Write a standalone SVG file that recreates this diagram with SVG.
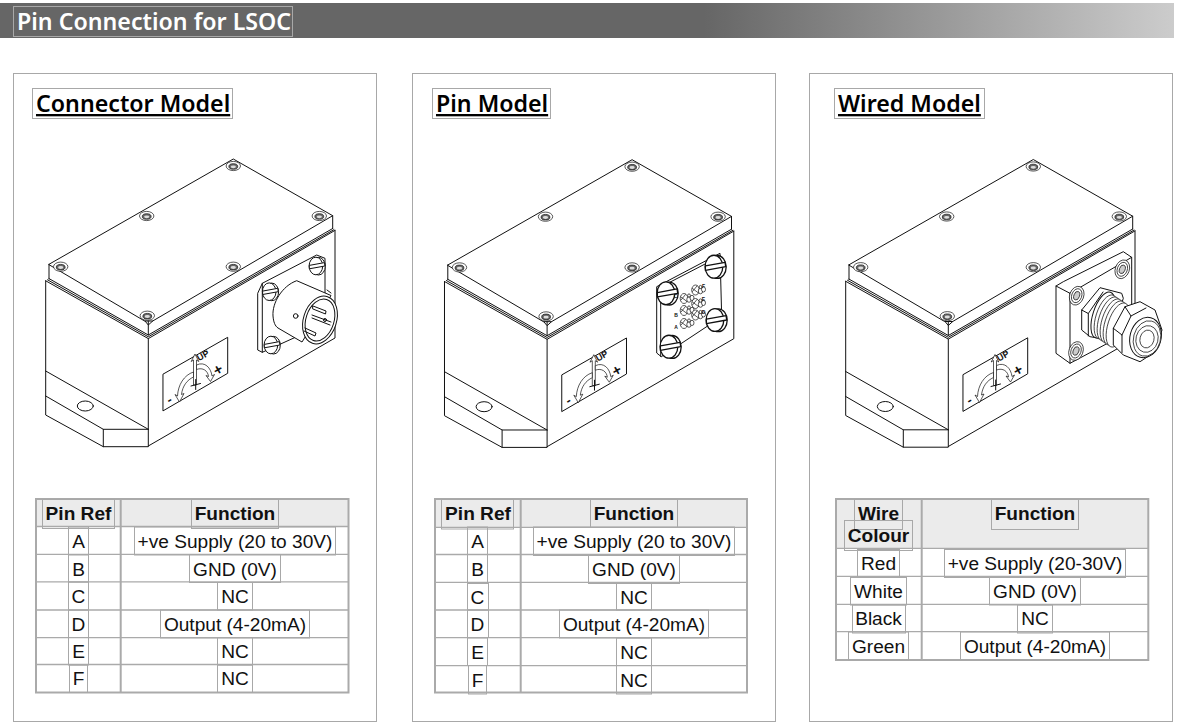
<svg xmlns="http://www.w3.org/2000/svg" xmlns:xlink="http://www.w3.org/1999/xlink" width="1185" height="723" viewBox="0 0 1185 723">
<style>
.bx{fill:none;stroke:#a8a8a8;stroke-width:1}
.ln{fill:none;stroke:#111;stroke-width:1;stroke-linejoin:round;stroke-linecap:round}
.wf{fill:#fff;stroke:#111;stroke-width:1;stroke-linejoin:round}
.th{stroke-width:.7}
.title{font-family:"Noto Sans","Open Sans",sans-serif;font-weight:600;font-size:23.2px;fill:#fff}
.head{font-family:"Noto Sans","Open Sans",sans-serif;font-weight:600;font-size:23.2px;fill:#000;text-decoration:underline}
.c{font-family:"Liberation Sans",Arial,sans-serif;font-size:19.1px;fill:#111;text-anchor:middle}
.h{font-weight:bold}
.tbl{fill:none;stroke:#aaa;stroke-width:2}
.row{fill:none;stroke:#aaa;stroke-width:1.3}
.mark{font-family:"Liberation Sans",Arial,sans-serif;font-weight:bold;fill:#111;text-anchor:middle}
</style>
<defs>
<linearGradient id="bar" x1="0" x2="1" y1="0" y2="0"><stop offset="0" stop-color="#666"/><stop offset=".6" stop-color="#666"/><stop offset="1" stop-color="#ccc"/></linearGradient>
<g id="cb"><ellipse class="wf th" rx="7.200" ry="4.600"/><ellipse cy=".5" rx="4.400" ry="2.800" fill="#666" stroke="#111" stroke-width=".7"/><ellipse cy=".8" rx="2.600" ry="1.400" fill="#ddd"/></g>
<g id="slot"><ellipse class="wf" cx="1.800" cy=".2" rx="6.800" ry="8.800"/><ellipse class="wf" cx="-.8" rx="6.800" ry="8.800"/><path class="wf" d="M-7.400,-.6L7.800,-3.400L8.200,0L-7.400,2.800Z"/></g>
<g id="pins"><ellipse class="wf th" rx="3.800" ry="5"/><path class="ln th" d="M-3,1.500L1.500,-4M-3,-1.500L3,3"/><ellipse class="wf th" cx="5" cy="1" rx="2.200" ry="2.800"/><ellipse class="wf th" cx="8" cy="-.6" rx="2" ry="2.600"/><ellipse class="wf th" cx="5" cy="-3" rx="1.400" ry="1.600"/></g>
<g id="bolt"><ellipse class="wf th" rx="7" ry="9.600" transform="rotate(20)"/><ellipse class="wf th" rx="5" ry="7.200" transform="rotate(20)"/><ellipse rx="2.800" ry="4.400" transform="rotate(20)" fill="#ccc" stroke="#111" stroke-width=".7"/></g>
<g id="unit">
<path class="ln" d="M49,264.300L233.300,159L332.700,215.700L152.700,321L145,321Z"/>
<path class="ln" d="M49,264.300V279M332.700,215.700V228.500M148.300,321V335M145,321L148.300,325L152.700,321"/>
<path class="ln" d="M49,278.600L148.300,335L332.700,228.500"/>
<path class="ln" d="M47.500,279.800L148.300,336.800L334,229.600"/>
<path class="ln" d="M45.700,280.800L148.300,338.600L335,230.400"/>
<path class="ln" d="M45.700,280.800V415L103.300,446.700H148.300V338.600M335,230.400V338L148.300,446"/>
<path class="ln" d="M45.700,371L148.300,429.300M45.700,396L103.300,429.300H148.300M103.300,429.300V446.700"/>
<ellipse class="ln" cx="85.300" cy="406" rx="8" ry="5"/>
<use href="#cb" x="233.300" y="166"/><use href="#cb" x="146.700" y="216"/><use href="#cb" x="319.300" y="216"/><use href="#cb" x="60.700" y="266.700"/><use href="#cb" x="233.300" y="266.700"/><use href="#cb" x="147.300" y="315.700"/>
<path class="ln" d="M163.300,374L227.700,337.300V373.300L163.300,410.700Z"/>
<path class="wf th" d="M193.500,385V360L191.200,361.500L195,354L198.800,361.500L196.500,360V385Z"/>
<path class="wf th" d="M193.500,372C184,375 178,385 177.500,396L175,394.500L179.500,402L184,393.500L181.500,394.500C182.500,386 187,380 193.500,377Z"/>
<path class="wf th" d="M196.500,365C205,361 211,368 212,376L214.500,374.500L210.500,381.500L206,375.500L208.500,376.500C208,371 203,367 196.500,369.500Z"/>
<path class="ln" d="M195.700,379.500V389.500M191,386L200.500,383.500"/>
<text class="mark" font-size="9" transform="translate(204.500,358) rotate(-30)">UP</text>
<text class="mark" font-size="15" transform="translate(220.500,374) rotate(-30)">+</text>
<text class="mark" font-size="13" transform="translate(171.500,403.500) rotate(-30)">-</text>
</g>
</defs>
<rect id="titlebar" x="0" y="3" width="1174" height="35" fill="url(#bar)"/>
<g id="title"><rect class="bx" x="13.500" y="6.500" width="279" height="30"/><text class="title" x="17" y="30">Pin Connection for LSOC</text></g>

<g id="panel-connector">
<rect class="bx" x="13.500" y="73.500" width="363" height="648"/>
<rect class="bx" x="32.500" y="88.500" width="200" height="30"/><text class="head" x="36" y="112">Connector Model</text>
<use href="#unit"/>
<g id="connector-plug">
<path class="wf" d="M257.700,293.300L262.300,283.300L316.700,255L325,258.300V315L296.700,336.700L262.300,352.300L257.700,350Z"/>
<path class="ln" d="M262.300,283.300V352.300"/>
<use href="#slot" x="270" y="291.700"/><use href="#slot" x="316.700" y="266"/><use href="#slot" x="271.700" y="345"/>
<path class="wf" d="M296.700,280.700C282,286 272,303 273,316C273.500,322 275,326 278,328L302,342L331,295.500Z"/>
<circle class="ln" cx="295.700" cy="316" r="2.300"/>
<path class="ln" d="M327,290L331,293"/>
<ellipse class="wf" cx="320" cy="320" rx="16.500" ry="24.500" transform="rotate(18 320 320)"/>
<ellipse class="wf" cx="320" cy="320" rx="14" ry="21.500" transform="rotate(18 320 320)"/>
<path class="ln" d="M313,306L326,311L325.500,314L313,309ZM312,315L331,322M312,318L330,325M305,328L316,333L315,336L304,331"/>
<circle class="ln" cx="325" cy="320" r="1.500"/>
</g>
</g>

<g id="panel-pin">
<rect class="bx" x="412.500" y="73.500" width="363" height="648"/>
<rect class="bx" x="432.500" y="88.500" width="118" height="30"/><text class="head" x="436" y="112">Pin Model</text>
<use href="#unit" transform="translate(398.800,.7)"/>
<g id="pin-plate">
<path class="wf" d="M656.700,286.700L720,253.300L721.700,316.700L661.300,356.700L656.700,353Z"/>
<path class="ln" d="M660.700,284.500V356.500M660.700,287L720.500,256"/>
<use href="#slot" transform="translate(667,293.300) scale(1.300)"/><use href="#slot" transform="translate(715,266.700) scale(1.300)"/><use href="#slot" transform="translate(670,346.700) scale(1.300)"/><use href="#slot" transform="translate(716,320) scale(1.300)"/>
<use href="#pins" x="684" y="298.500"/><use href="#pins" x="695.500" y="290"/><use href="#pins" x="684" y="310.500"/><use href="#pins" x="695.500" y="303.500"/><use href="#pins" x="684" y="323.500"/><use href="#pins" x="695.500" y="315"/>
<text class="mark" font-size="5" x="703.500" y="288">F</text><text class="mark" font-size="5" x="703.500" y="301">E</text><text class="mark" font-size="5" x="703.500" y="314">D</text><text class="mark" font-size="5" x="675.500" y="298">C</text><text class="mark" font-size="5" x="676" y="317">B</text><text class="mark" font-size="5" x="676" y="329">A</text>
</g>
</g>

<g id="panel-wired">
<rect class="bx" x="809.500" y="73.500" width="363" height="648"/>
<rect class="bx" x="834.500" y="88.500" width="150" height="30"/><text class="head" x="838" y="112">Wired Model</text>
<use href="#unit" transform="translate(800,.5)"/>
<g id="wire-gland">
<path class="wf" d="M1056,286L1063.300,281.700L1123.300,251.700L1131.700,257.300V307L1110,342L1070,363.300L1056,353.300Z"/>
<path class="ln" d="M1070,293.300V363.300M1070,293.300L1131.700,257.300M1056,286L1070,293.300"/>
<use href="#bolt" x="1076.700" y="295.700"/><use href="#bolt" x="1122.300" y="269.300"/><use href="#bolt" x="1076" y="351"/>
<path class="wf" d="M1081.700,310L1100,287.700L1121.700,293.300L1123.300,298.300L1110,340L1090,336.700L1081.700,330Z"/>
<path class="ln" d="M1081.700,310L1088.300,313.500V336M1088.300,313.500L1103,292"/>
<ellipse class="wf" cx="1103" cy="315" rx="10" ry="24" transform="rotate(18 1103 315)"/>
<ellipse class="wf th" cx="1106" cy="317" rx="10" ry="23" transform="rotate(18 1106 317)"/>
<ellipse class="wf th" cx="1109" cy="319" rx="10" ry="23" transform="rotate(18 1109 319)"/>
<ellipse class="wf th" cx="1112" cy="321" rx="10" ry="23" transform="rotate(18 1112 321)"/>
<ellipse class="wf th" cx="1115" cy="323" rx="10" ry="23" transform="rotate(18 1115 323)"/>
<ellipse class="wf th" cx="1118" cy="325" rx="10" ry="23" transform="rotate(18 1118 325)"/>
<path class="wf" d="M1113.300,328.300L1125,306.700L1140,301.700L1155,310L1162,330L1155,352L1140,361.700L1123.300,355L1113.300,345Z"/>
<path class="ln" d="M1113.300,328.300L1122,335V352.500M1122,335L1131,316L1125,306.700M1131,316L1146,308"/>
<ellipse class="wf" cx="1145.500" cy="337.500" rx="15.500" ry="20.500" transform="rotate(15 1145.500 337.500)"/>
<ellipse class="wf th" cx="1147" cy="338.500" rx="13.500" ry="18" transform="rotate(15 1147 338.500)"/>
<ellipse class="wf th" cx="1147" cy="339" rx="11" ry="13.500" transform="rotate(15 1147 339)"/>
<ellipse class="wf th" cx="1147" cy="339" rx="7" ry="9" transform="rotate(15 1147 339)"/>
</g>
</g>

<g id="table-connector">
<rect x="36" y="500" width="312.500" height="26.500" fill="#ebebeb"/>
<path class="row" d="M36,526.500H348.500M36,554.300H348.500M36,581.800H348.500M36,610H348.500M36,637.700H348.500M36,664.500H348.500"/>
<path class="tbl" d="M120.700,499V693"/>
<rect class="tbl" x="36" y="499" width="312.500" height="193.500"/>
<rect class="bx" x="42.500" y="499.500" width="72" height="29"/><text class="c h" x="78.500" y="520">Pin Ref</text>
<rect class="bx" x="191.500" y="499.500" width="87" height="29"/><text class="c h" x="235" y="520">Function</text>
<rect class="bx" x="68.500" y="527" width="20" height="28"/><text class="c" x="78.500" y="548.300">A</text>
<rect class="bx" x="134.500" y="527" width="201" height="28"/><text class="c" x="235" y="548.300">+ve Supply (20 to 30V)</text>
<rect class="bx" x="68.500" y="554.500" width="20" height="27.500"/><text class="c" x="78.500" y="575.500">B</text>
<rect class="bx" x="189.500" y="554.500" width="91" height="28"/><text class="c" x="235" y="575.500">GND (0V)</text>
<rect class="bx" x="68.500" y="582" width="20" height="28"/><text class="c" x="78.500" y="603">C</text>
<rect class="bx" x="217.500" y="582.500" width="35" height="27.500"/><text class="c" x="235" y="603">NC</text>
<rect class="bx" x="68.500" y="610" width="20" height="27.500"/><text class="c" x="78.500" y="630.700">D</text>
<rect class="bx" x="160.500" y="610" width="149" height="28"/><text class="c" x="235" y="630.700">Output (4-20mA)</text>
<rect class="bx" x="68.500" y="637.500" width="20" height="27.500"/><text class="c" x="78.500" y="657.700">E</text>
<rect class="bx" x="217.500" y="637.500" width="35" height="27.500"/><text class="c" x="235" y="657.700">NC</text>
<rect class="bx" x="69.500" y="665" width="18" height="27.500"/><text class="c" x="78.500" y="685">F</text>
<rect class="bx" x="217.500" y="665" width="35" height="27.500"/><text class="c" x="235" y="685">NC</text>
</g>

<g id="table-pin">
<rect x="435" y="500" width="312" height="27" fill="#ebebeb"/>
<path class="row" d="M435,527.300H747M435,554.500H747M435,582.300H747M435,610H747M435,637.700H747M435,665.700H747"/>
<path class="tbl" d="M520.700,499V693"/>
<rect class="tbl" x="435" y="499" width="312" height="193.500"/>
<rect class="bx" x="441.500" y="499.500" width="72" height="29.500"/><text class="c h" x="478" y="520">Pin Ref</text>
<rect class="bx" x="590.500" y="499.500" width="87" height="28"/><text class="c h" x="634" y="520">Function</text>
<rect class="bx" x="467.500" y="527" width="20" height="27.500"/><text class="c" x="477.500" y="548.300">A</text>
<rect class="bx" x="533.500" y="527" width="201" height="28.500"/><text class="c" x="634" y="548.300">+ve Supply (20 to 30V)</text>
<rect class="bx" x="467.500" y="554.500" width="20" height="28"/><text class="c" x="477.500" y="576">B</text>
<rect class="bx" x="588.500" y="555.500" width="91" height="28"/><text class="c" x="634" y="576">GND (0V)</text>
<rect class="bx" x="467.500" y="583.500" width="21" height="26.500"/><text class="c" x="477.500" y="603.700">C</text>
<rect class="bx" x="616.500" y="583.500" width="35" height="26.500"/><text class="c" x="634" y="603.700">NC</text>
<rect class="bx" x="467.500" y="610" width="21" height="27.500"/><text class="c" x="477.500" y="630.700">D</text>
<rect class="bx" x="559.500" y="610" width="149" height="28"/><text class="c" x="634" y="630.700">Output (4-20mA)</text>
<rect class="bx" x="467.500" y="638" width="20" height="27.500"/><text class="c" x="477.500" y="658.700">E</text>
<rect class="bx" x="616.500" y="638" width="35" height="27.500"/><text class="c" x="634" y="658.700">NC</text>
<rect class="bx" x="468.500" y="665.500" width="18" height="28.500"/><text class="c" x="477.500" y="686.700">F</text>
<rect class="bx" x="616.500" y="665.500" width="35" height="28.500"/><text class="c" x="634" y="686.700">NC</text>
</g>

<g id="table-wired">
<rect x="836" y="500" width="312" height="48.300" fill="#ebebeb"/>
<path class="row" d="M836,548.300H1148.300M836,576.300H1148.300M836,604.300H1148.300M836,631.700H1148.300"/>
<path class="tbl" d="M921.700,499V660"/>
<rect class="tbl" x="836" y="499" width="312.300" height="161"/>
<rect class="bx" x="854.500" y="499.500" width="48" height="30"/><text class="c h" x="878.500" y="520">Wire</text>
<rect class="bx" x="844.500" y="520.500" width="68" height="30"/><text class="c h" x="878.500" y="541.700">Colour</text>
<rect class="bx" x="991.500" y="499.500" width="87" height="30"/><text class="c h" x="1035" y="520">Function</text>
<rect class="bx" x="857.500" y="549.500" width="42" height="28"/><text class="c" x="878.500" y="570">Red</text>
<rect class="bx" x="944.500" y="549.500" width="181" height="28"/><text class="c" x="1035" y="570">+ve Supply (20-30V)</text>
<rect class="bx" x="850.500" y="577.500" width="56" height="27.500"/><text class="c" x="878.500" y="597.700">White</text>
<rect class="bx" x="989.500" y="577.500" width="91" height="27.500"/><text class="c" x="1035" y="597.700">GND (0V)</text>
<rect class="bx" x="852.500" y="605" width="53" height="28"/><text class="c" x="878.500" y="625">Black</text>
<rect class="bx" x="1017.500" y="605" width="35" height="28"/><text class="c" x="1035" y="625">NC</text>
<rect class="bx" x="848.500" y="632" width="60" height="28"/><text class="c" x="878.500" y="652.700">Green</text>
<rect class="bx" x="960.500" y="632" width="149" height="28"/><text class="c" x="1035" y="652.700">Output (4-20mA)</text>
</g>
</svg>
